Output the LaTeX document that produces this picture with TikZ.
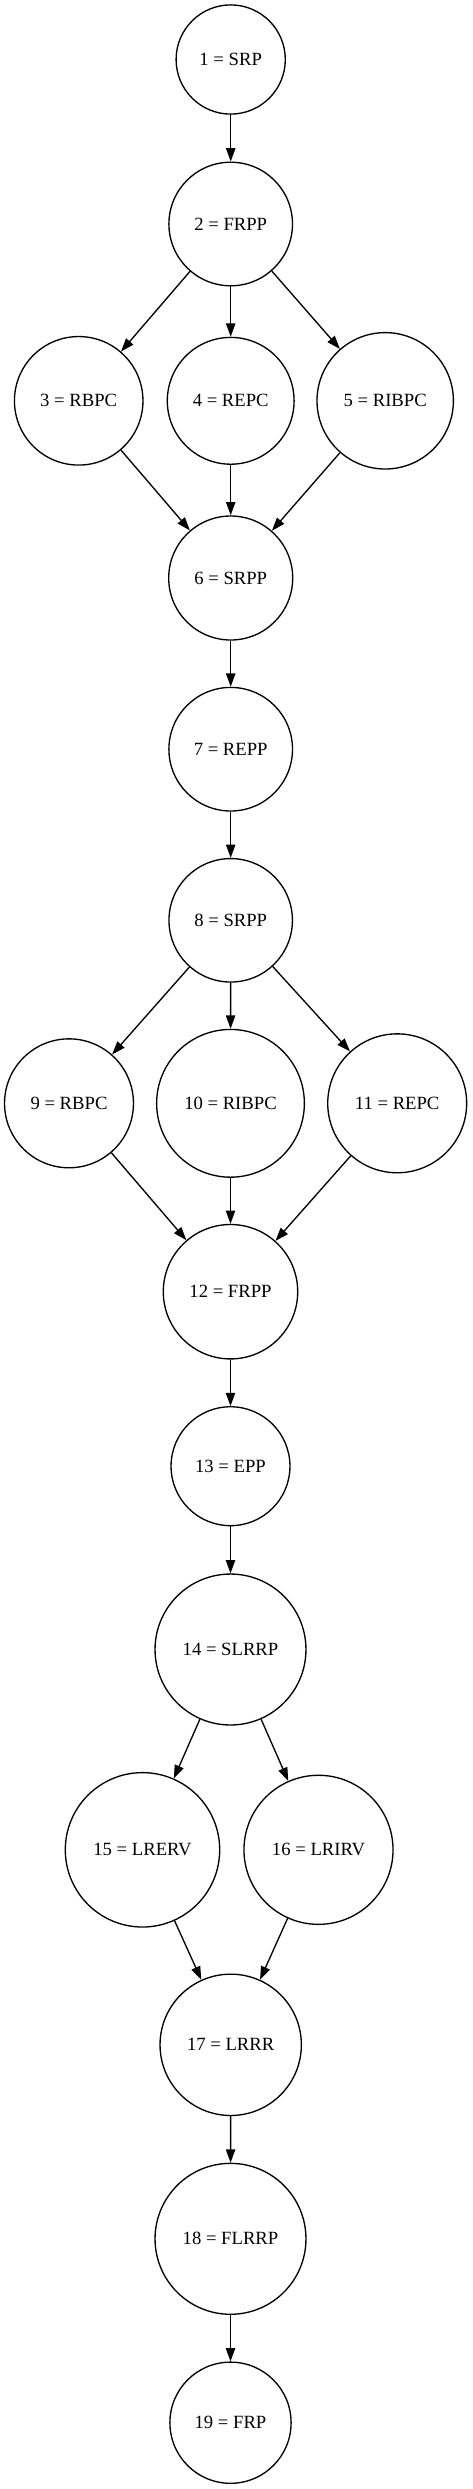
\documentclass[tikz,border=0pt]{standalone}
\usepackage{fontspec}
\setmainfont{Liberation Serif}
\usetikzlibrary{arrows.meta}
\begin{document}
\begin{tikzpicture}[x=0.75pt,y=-0.75pt,
  st/.style={draw,circle,inner sep=0pt,line width=1pt,font=\fontsize{14pt}{16pt}\selectfont},
  edge/.style={line width=1pt,-{Triangle[length=10pt,width=7pt]}}]
\useasboundingbox (0,0) rectangle (472,2489);
\node[st,minimum size=81.9pt]  (n1)  at (230.7,59.5)   {1 = SRP};
\node[st,minimum size=92.7pt]  (n2)  at (230.7,224)    {2 = FRPP};
\node[st,minimum size=96.4pt]  (n3)  at (78.7,400.8)   {3 = RBPC};
\node[st,minimum size=95.1pt]  (n4)  at (230.7,400.8)  {4 = REPC};
\node[st,minimum size=102.3pt] (n5)  at (385.2,400.8)  {5 = RIBPC};
\node[st,minimum size=93pt]    (n6)  at (230.7,578)    {6 = SRPP};
\node[st,minimum size=92.7pt]  (n7)  at (230.7,749.2)  {7 = REPP};
\node[st,minimum size=92.6pt]  (n8)  at (230.7,920.3)  {8 = SRPP};
\node[st,minimum size=96.7pt]  (n9)  at (69,1103.3)    {9 = RBPC};
\node[st,minimum size=110.8pt] (n10) at (230.5,1103.3) {10 = RIBPC};
\node[st,minimum size=104.2pt] (n11) at (397.2,1103.3) {11 = REPC};
\node[st,minimum size=100.8pt] (n12) at (230.5,1291.7) {12 = FRPP};
\node[st,minimum size=89.2pt]  (n13) at (230.5,1466.2) {13 = EPP};
\node[st,minimum size=113.2pt] (n14) at (230.5,1649.5) {14 = SLRRP};
\node[st,minimum size=115.8pt] (n15) at (142.5,1849.8) {15 = LRERV};
\node[st,minimum size=111.8pt] (n16) at (318.5,1849.8) {16 = LRIRV};
\node[st,minimum size=106pt]   (n17) at (230.7,2044.8) {17 = LRRR};
\node[st,minimum size=113.2pt] (n18) at (230.5,2238.8) {18 = FLRRP};
\node[st,minimum size=90.9pt]  (n19) at (230.5,2422.7) {19 = FRP};
\draw[edge] (n1) -- (n2);
\draw[edge] (n2) -- (n3);
\draw[edge] (n2) -- (n4);
\draw[edge] (n2) -- (n5);
\draw[edge] (n3) -- (n6);
\draw[edge] (n4) -- (n6);
\draw[edge] (n5) -- (n6);
\draw[edge] (n6) -- (n7);
\draw[edge] (n7) -- (n8);
\draw[edge] (n8) -- (n9);
\draw[edge] (n8) -- (n10);
\draw[edge] (n8) -- (n11);
\draw[edge] (n9) -- (n12);
\draw[edge] (n10) -- (n12);
\draw[edge] (n11) -- (n12);
\draw[edge] (n12) -- (n13);
\draw[edge] (n13) -- (n14);
\draw[edge] (n14) -- (n15);
\draw[edge] (n14) -- (n16);
\draw[edge] (n15) -- (n17);
\draw[edge] (n16) -- (n17);
\draw[edge] (n17) -- (n18);
\draw[edge] (n18) -- (n19);
\end{tikzpicture}
\end{document}
